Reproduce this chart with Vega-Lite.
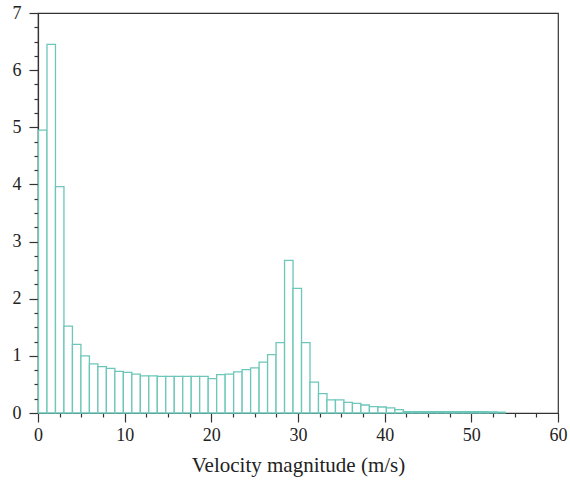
{
  "$schema": "https://vega.github.io/schema/vega-lite/v6.json",
  "width": 520,
  "height": 400,
  "autosize": "none",
  "padding": {"left": 38, "top": 13, "right": 12, "bottom": 71},
  "background": "white",
  "config": {
    "view": {"stroke": "#333333", "strokeWidth": 1.2},
    "axis": {
      "grid": false,
      "domainColor": "#333333",
      "domainWidth": 1.2,
      "tickColor": "#333333",
      "tickWidth": 1.2,
      "labelFont": "Liberation Serif",
      "labelFontSize": 18,
      "labelColor": "#222222",
      "titleFont": "Liberation Serif",
      "titleFontSize": 21,
      "titleFontWeight": "normal",
      "titleColor": "#222222",
      "labelOverlap": false,
      "labelFlush": false
    }
  },
  "data": {
    "values": [
      {"bin_start": 0, "bin_end": 0.979, "density": 4.95},
      {"bin_start": 0.979, "bin_end": 1.958, "density": 6.45},
      {"bin_start": 1.958, "bin_end": 2.937, "density": 3.96},
      {"bin_start": 2.937, "bin_end": 3.916, "density": 1.52},
      {"bin_start": 3.916, "bin_end": 4.895, "density": 1.2},
      {"bin_start": 4.895, "bin_end": 5.874, "density": 1.0},
      {"bin_start": 5.874, "bin_end": 6.853, "density": 0.86},
      {"bin_start": 6.853, "bin_end": 7.832, "density": 0.81},
      {"bin_start": 7.832, "bin_end": 8.811, "density": 0.78},
      {"bin_start": 8.811, "bin_end": 9.79, "density": 0.73},
      {"bin_start": 9.79, "bin_end": 10.769, "density": 0.71},
      {"bin_start": 10.769, "bin_end": 11.748, "density": 0.68},
      {"bin_start": 11.748, "bin_end": 12.727, "density": 0.65},
      {"bin_start": 12.727, "bin_end": 13.706, "density": 0.65},
      {"bin_start": 13.706, "bin_end": 14.685, "density": 0.64},
      {"bin_start": 14.685, "bin_end": 15.664, "density": 0.64},
      {"bin_start": 15.664, "bin_end": 16.643, "density": 0.64},
      {"bin_start": 16.643, "bin_end": 17.622, "density": 0.64},
      {"bin_start": 17.622, "bin_end": 18.601, "density": 0.64},
      {"bin_start": 18.601, "bin_end": 19.58, "density": 0.64},
      {"bin_start": 19.58, "bin_end": 20.559, "density": 0.6},
      {"bin_start": 20.559, "bin_end": 21.538, "density": 0.67},
      {"bin_start": 21.538, "bin_end": 22.517, "density": 0.68},
      {"bin_start": 22.517, "bin_end": 23.496, "density": 0.72},
      {"bin_start": 23.496, "bin_end": 24.475, "density": 0.76},
      {"bin_start": 24.475, "bin_end": 25.454, "density": 0.79},
      {"bin_start": 25.454, "bin_end": 26.433, "density": 0.89},
      {"bin_start": 26.433, "bin_end": 27.412, "density": 1.02},
      {"bin_start": 27.412, "bin_end": 28.391, "density": 1.23},
      {"bin_start": 28.391, "bin_end": 29.37, "density": 2.67},
      {"bin_start": 29.37, "bin_end": 30.349, "density": 2.18},
      {"bin_start": 30.349, "bin_end": 31.328, "density": 1.23},
      {"bin_start": 31.328, "bin_end": 32.307, "density": 0.54},
      {"bin_start": 32.307, "bin_end": 33.286, "density": 0.34},
      {"bin_start": 33.286, "bin_end": 34.265, "density": 0.23},
      {"bin_start": 34.265, "bin_end": 35.244, "density": 0.23},
      {"bin_start": 35.244, "bin_end": 36.223, "density": 0.185},
      {"bin_start": 36.223, "bin_end": 37.202, "density": 0.17},
      {"bin_start": 37.202, "bin_end": 38.181, "density": 0.14},
      {"bin_start": 38.181, "bin_end": 39.16, "density": 0.11},
      {"bin_start": 39.16, "bin_end": 40.139, "density": 0.105},
      {"bin_start": 40.139, "bin_end": 41.118, "density": 0.09},
      {"bin_start": 41.118, "bin_end": 42.097, "density": 0.06},
      {"bin_start": 42.097, "bin_end": 43.076, "density": 0.025},
      {"bin_start": 43.076, "bin_end": 44.055, "density": 0.025},
      {"bin_start": 44.055, "bin_end": 45.034, "density": 0.025},
      {"bin_start": 45.034, "bin_end": 46.013, "density": 0.025},
      {"bin_start": 46.013, "bin_end": 46.992, "density": 0.025},
      {"bin_start": 46.992, "bin_end": 47.971, "density": 0.025},
      {"bin_start": 47.971, "bin_end": 48.95, "density": 0.025},
      {"bin_start": 48.95, "bin_end": 49.929, "density": 0.025},
      {"bin_start": 49.929, "bin_end": 50.908, "density": 0.025},
      {"bin_start": 50.908, "bin_end": 51.887, "density": 0.025},
      {"bin_start": 51.887, "bin_end": 52.866, "density": 0.02},
      {"bin_start": 52.866, "bin_end": 53.845, "density": 0.015}
    ]
  },
  "mark": {"type": "bar", "fill": "white", "stroke": "#6cc6b9", "strokeWidth": 1.3, "binSpacing": 0},
  "encoding": {
    "x": {
      "field": "bin_start",
      "type": "quantitative",
      "bin": {"binned": true},
      "scale": {"domain": [0, 60], "nice": false, "zero": false},
      "axis": {
        "title": "Velocity magnitude (m/s)",
        "values": [0, 2.5, 5, 7.5, 10, 12.5, 15, 17.5, 20, 22.5, 25, 27.5, 30, 32.5, 35, 37.5, 40, 42.5, 45, 47.5, 50, 52.5, 55, 57.5, 60],
        "labelExpr": "datum.value % 10 === 0 ? format(datum.value, 'd') : ''",
        "tickSize": {"condition": {"test": "datum.value % 10 === 0", "value": 9}, "value": 4},
        "labelPadding": 4,
        "titlePadding": 10
      }
    },
    "x2": {"field": "bin_end"},
    "y": {
      "field": "density",
      "type": "quantitative",
      "scale": {"domain": [0, 7], "nice": false},
      "axis": {
        "title": null,
        "values": [0, 0.25, 0.5, 0.75, 1, 1.25, 1.5, 1.75, 2, 2.25, 2.5, 2.75, 3, 3.25, 3.5, 3.75, 4, 4.25, 4.5, 4.75, 5, 5.25, 5.5, 5.75, 6, 6.25, 6.5, 6.75, 7],
        "labelExpr": "datum.value % 1 === 0 ? format(datum.value, 'd') : ''",
        "tickSize": {"condition": {"test": "datum.value % 1 === 0", "value": 9}, "value": 4},
        "labelPadding": 8
      }
    }
  }
}
